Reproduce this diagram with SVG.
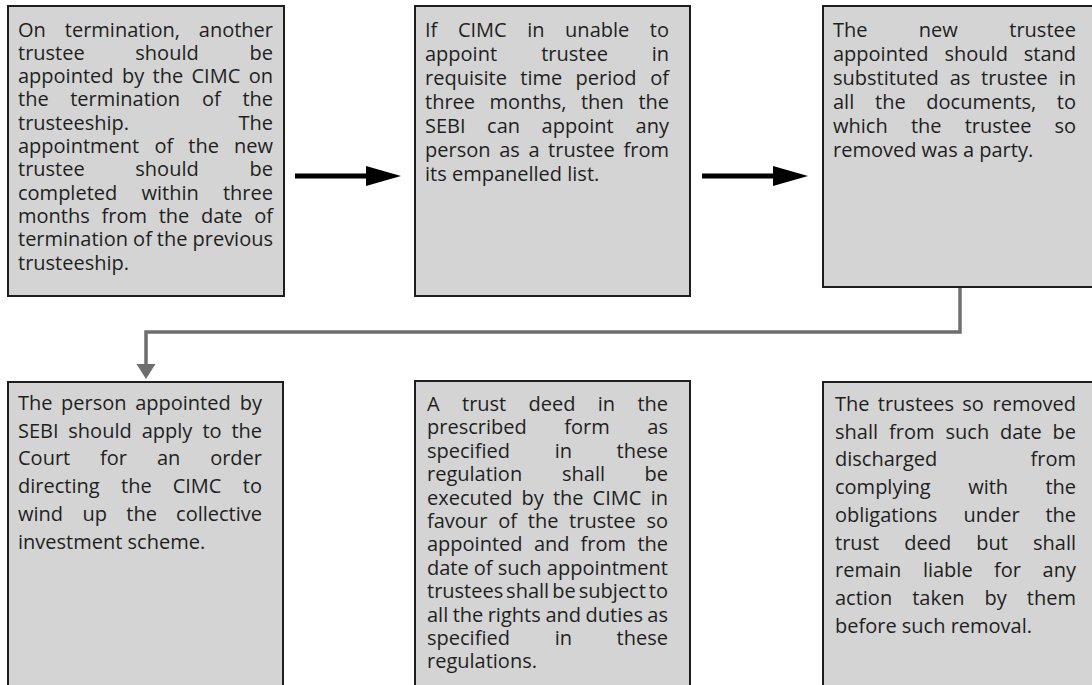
<svg xmlns="http://www.w3.org/2000/svg" width="1092" height="685" viewBox="0 0 1092 685">
  <style>
    .box { fill: #d4d4d4; stroke: #1e1e1e; stroke-width: 2; }
    .t { font-family: "Open Sans", "Noto Sans", sans-serif; font-size: 20px; fill: #1f1f1f; }
    .e { text-anchor: end; }
    .flow { fill: none; stroke: #000; stroke-width: 5; }
    .link { fill: none; stroke: #6e6e6e; stroke-width: 3.5; }
  </style>
  <defs>
    <marker id="headBlack" markerUnits="userSpaceOnUse" markerWidth="36" markerHeight="20" refX="0" refY="10" orient="auto" viewBox="0 0 36 20">
      <path d="M0,0 L35,10 L0,20 z" fill="#000"/>
    </marker>
    <marker id="headGray" markerUnits="userSpaceOnUse" markerWidth="16" markerHeight="20" refX="0" refY="9.5" orient="auto" viewBox="0 0 16 19">
      <path d="M0,0 L15,9.5 L0,19 z" fill="#6e6e6e"/>
    </marker>
  </defs>

  <rect width="1092" height="685" fill="#fff"/>

  <!-- connectors -->
  <g id="connectors">
    <line class="flow" x1="295" y1="176" x2="366" y2="176" marker-end="url(#headBlack)"/>
    <line class="flow" x1="702" y1="176" x2="773" y2="176" marker-end="url(#headBlack)"/>
    <polyline class="link" points="960,288 960,332 146,332 146,364" marker-end="url(#headGray)"/>
  </g>

  <!-- step 1 -->
  <g id="node-termination">
    <rect class="box" x="8" y="6" width="276" height="290"/>
    <text class="t" y="36.5"><tspan x="18">On</tspan><tspan x="64.8">termination,</tspan><tspan x="273" class="e">another</tspan></text>
    <text class="t" y="59.8"><tspan x="18">trustee</tspan><tspan x="135.3">should</tspan><tspan x="273" class="e">be</tspan></text>
    <text class="t" y="83.1"><tspan x="18">appointed</tspan><tspan x="122">by</tspan><tspan x="152.6">the</tspan><tspan x="191.5">CIMC</tspan><tspan x="273" class="e">on</tspan></text>
    <text class="t" y="106.4"><tspan x="18">the</tspan><tspan x="70.2">termination</tspan><tspan x="201.9">of</tspan><tspan x="273" class="e">the</tspan></text>
    <text class="t" y="129.7"><tspan x="18">trusteeship.</tspan><tspan x="273" class="e">The</tspan></text>
    <text class="t" y="153"><tspan x="18">appointment</tspan><tspan x="154.5">of</tspan><tspan x="188.3">the</tspan><tspan x="273" class="e">new</tspan></text>
    <text class="t" y="176.3"><tspan x="18">trustee</tspan><tspan x="135.3">should</tspan><tspan x="273" class="e">be</tspan></text>
    <text class="t" y="199.6"><tspan x="18">completed</tspan><tspan x="141.5">within</tspan><tspan x="273" class="e">three</tspan></text>
    <text class="t" y="222.9"><tspan x="18">months</tspan><tspan x="101.5">from</tspan><tspan x="158.7">the</tspan><tspan x="200.9">date</tspan><tspan x="273" class="e">of</tspan></text>
    <text class="t" y="246.2"><tspan x="18">termination</tspan><tspan x="133.1">of</tspan><tspan x="156.8">the</tspan><tspan x="273" class="e">previous</tspan></text>
    <text class="t" y="269.5"><tspan x="18">trusteeship.</tspan></text>
  </g>

  <!-- step 2 -->
  <g id="node-sebi-appoints">
    <rect class="box" x="415" y="6" width="275" height="290"/>
    <text class="t" y="36.5"><tspan x="425">If</tspan><tspan x="457.9">CIMC</tspan><tspan x="527.2">in</tspan><tspan x="565.1">unable</tspan><tspan x="669" class="e">to</tspan></text>
    <text class="t" y="60.5"><tspan x="425">appoint</tspan><tspan x="541.2">trustee</tspan><tspan x="669" class="e">in</tspan></text>
    <text class="t" y="84.5"><tspan x="425">requisite</tspan><tspan x="520.3">time</tspan><tspan x="575.6">period</tspan><tspan x="669" class="e">of</tspan></text>
    <text class="t" y="108.5"><tspan x="425">three</tspan><tspan x="489.6">months,</tspan><tspan x="580.9">then</tspan><tspan x="669" class="e">the</tspan></text>
    <text class="t" y="132.5"><tspan x="425">SEBI</tspan><tspan x="487.1">can</tspan><tspan x="541.6">appoint</tspan><tspan x="669" class="e">any</tspan></text>
    <text class="t" y="156.5"><tspan x="425">person</tspan><tspan x="499.2">as</tspan><tspan x="528.4">a</tspan><tspan x="548.1">trustee</tspan><tspan x="669" class="e">from</tspan></text>
    <text class="t" y="180.5"><tspan x="425">its empanelled list.</tspan></text>
  </g>

  <!-- step 3 -->
  <g id="node-substitution">
    <rect class="box" x="823" y="6" width="290" height="281"/>
    <text class="t" y="36.5"><tspan x="833">The</tspan><tspan x="918.8">new</tspan><tspan x="1076" class="e">trustee</tspan></text>
    <text class="t" y="60.5"><tspan x="833">appointed</tspan><tspan x="944.5">should</tspan><tspan x="1076" class="e">stand</tspan></text>
    <text class="t" y="84.5"><tspan x="833">substituted</tspan><tspan x="949.7">as</tspan><tspan x="981.1">trustee</tspan><tspan x="1076" class="e">in</tspan></text>
    <text class="t" y="108.5"><tspan x="833">all</tspan><tspan x="875">the</tspan><tspan x="926.3">documents,</tspan><tspan x="1076" class="e">to</tspan></text>
    <text class="t" y="132.5"><tspan x="833">which</tspan><tspan x="910.9">the</tspan><tspan x="964.7">trustee</tspan><tspan x="1076" class="e">so</tspan></text>
    <text class="t" y="156.5"><tspan x="833">removed was a party.</tspan></text>
  </g>

  <!-- step 4 -->
  <g id="node-wind-up">
    <rect class="box" x="8" y="382" width="275" height="320"/>
    <text class="t" y="410"><tspan x="18">The</tspan><tspan x="61">person</tspan><tspan x="135.2">appointed</tspan><tspan x="262" class="e">by</tspan></text>
    <text class="t" y="437.7"><tspan x="18">SEBI</tspan><tspan x="68.3">should</tspan><tspan x="141.7">apply</tspan><tspan x="202.4">to</tspan><tspan x="262" class="e">the</tspan></text>
    <text class="t" y="465.4"><tspan x="18">Court</tspan><tspan x="100">for</tspan><tspan x="156.9">an</tspan><tspan x="262" class="e">order</tspan></text>
    <text class="t" y="493.1"><tspan x="18">directing</tspan><tspan x="121">the</tspan><tspan x="172.7">CIMC</tspan><tspan x="262" class="e">to</tspan></text>
    <text class="t" y="520.8"><tspan x="18">wind</tspan><tspan x="82.5">up</tspan><tspan x="126.3">the</tspan><tspan x="262" class="e">collective</tspan></text>
    <text class="t" y="548.5"><tspan x="18">investment scheme.</tspan></text>
  </g>

  <!-- step 5 -->
  <g id="node-trust-deed">
    <rect class="box" x="415" y="381" width="275" height="320"/>
    <text class="t" y="411"><tspan x="427">A</tspan><tspan x="462">trust</tspan><tspan x="528.5">deed</tspan><tspan x="597.7">in</tspan><tspan x="668" class="e">the</tspan></text>
    <text class="t" y="434.4"><tspan x="427">prescribed</tspan><tspan x="564.3">form</tspan><tspan x="668" class="e">as</tspan></text>
    <text class="t" y="457.8"><tspan x="427">specified</tspan><tspan x="554.7">in</tspan><tspan x="668" class="e">these</tspan></text>
    <text class="t" y="481.2"><tspan x="427">regulation</tspan><tspan x="562">shall</tspan><tspan x="668" class="e">be</tspan></text>
    <text class="t" y="504.6"><tspan x="427">executed</tspan><tspan x="521.4">by</tspan><tspan x="552.9">the</tspan><tspan x="592.6">CIMC</tspan><tspan x="668" class="e">in</tspan></text>
    <text class="t" y="528"><tspan x="427">favour</tspan><tspan x="498.2">of</tspan><tspan x="527.8">the</tspan><tspan x="569.1">trustee</tspan><tspan x="668" class="e">so</tspan></text>
    <text class="t" y="551.4"><tspan x="427">appointed</tspan><tspan x="533.9">and</tspan><tspan x="580.6">from</tspan><tspan x="668" class="e">the</tspan></text>
    <text class="t" y="574.8"><tspan x="427">date</tspan><tspan x="473.8">of</tspan><tspan x="497.8">such</tspan><tspan x="668" class="e">appointment</tspan></text>
    <text class="t" y="598.2"><tspan x="427">trustees</tspan><tspan x="506.1">shall</tspan><tspan x="552.3">be</tspan><tspan x="578.8">subject</tspan><tspan x="668" class="e">to</tspan></text>
    <text class="t" y="621.6"><tspan x="427">all</tspan><tspan x="452.7">the</tspan><tspan x="487.7">rights</tspan><tspan x="545.4">and</tspan><tspan x="585.5">duties</tspan><tspan x="668" class="e">as</tspan></text>
    <text class="t" y="645"><tspan x="427">specified</tspan><tspan x="554.7">in</tspan><tspan x="668" class="e">these</tspan></text>
    <text class="t" y="668.4"><tspan x="427">regulations.</tspan></text>
  </g>

  <!-- step 6 -->
  <g id="node-discharge">
    <rect class="box" x="823" y="382" width="290" height="320"/>
    <text class="t" y="411"><tspan x="835">The</tspan><tspan x="877.8">trustees</tspan><tspan x="962.3">so</tspan><tspan x="1076" class="e">removed</tspan></text>
    <text class="t" y="438.7"><tspan x="835">shall</tspan><tspan x="889">from</tspan><tspan x="945.5">such</tspan><tspan x="1000">date</tspan><tspan x="1076" class="e">be</tspan></text>
    <text class="t" y="466.4"><tspan x="835">discharged</tspan><tspan x="1076" class="e">from</tspan></text>
    <text class="t" y="494.1"><tspan x="835">complying</tspan><tspan x="968.2">with</tspan><tspan x="1076" class="e">the</tspan></text>
    <text class="t" y="521.8"><tspan x="835">obligations</tspan><tspan x="963.5">under</tspan><tspan x="1076" class="e">the</tspan></text>
    <text class="t" y="549.5"><tspan x="835">trust</tspan><tspan x="904.2">deed</tspan><tspan x="976.2">but</tspan><tspan x="1076" class="e">shall</tspan></text>
    <text class="t" y="577.2"><tspan x="835">remain</tspan><tspan x="922.9">liable</tspan><tspan x="994.1">for</tspan><tspan x="1076" class="e">any</tspan></text>
    <text class="t" y="604.9"><tspan x="835">action</tspan><tspan x="912.2">taken</tspan><tspan x="984.5">by</tspan><tspan x="1076" class="e">them</tspan></text>
    <text class="t" y="632.6"><tspan x="835">before such removal.</tspan></text>
  </g>
</svg>
